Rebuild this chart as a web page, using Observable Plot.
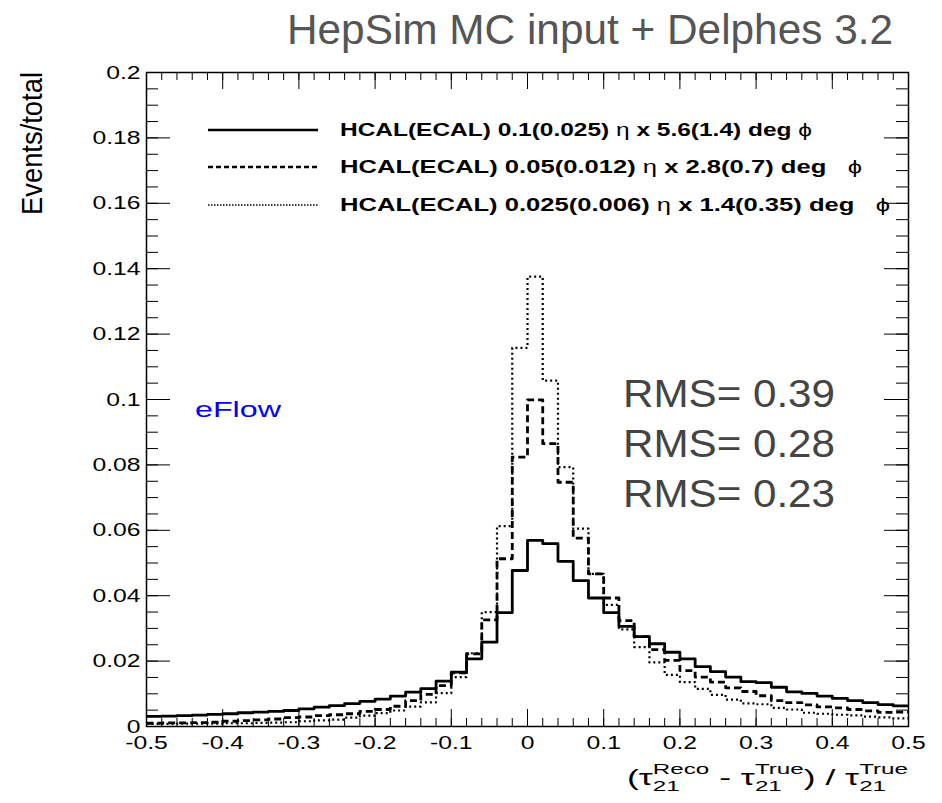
<!DOCTYPE html>
<html><head><meta charset="utf-8">
<script src="https://cdn.jsdelivr.net/npm/d3@7"></script>
<script src="https://cdn.jsdelivr.net/npm/@observablehq/plot@0.6"></script>
<style>body{margin:0;background:#fff} #chart{width:942px;height:803px}</style>
</head><body><div id="chart"></div>
<script>
// Bin edges of the histograms (50 bins of 0.02 from -0.5 to 0.5)
const binEdges = [-0.5,-0.48,-0.46,-0.44,-0.42,-0.4,-0.38,-0.36,-0.34,-0.32,-0.3,-0.28,-0.26,-0.24,-0.22,-0.2,-0.18,-0.16,-0.14,-0.12,-0.1,-0.08,-0.06,-0.04,-0.02,0,0.02,0.04,0.06,0.08,0.1,0.12,0.14,0.16,0.18,0.2,0.22,0.24,0.26,0.28,0.3,0.32,0.34,0.36,0.38,0.4,0.42,0.44,0.46,0.48,0.5];

// HCAL(ECAL) 0.1(0.025) eta x 5.6(1.4) deg phi  (solid)
const solidValues = [0.0031,0.0032,0.0033,0.0035,0.0037,0.0039,0.0042,0.0044,0.0046,0.0049,0.0054,0.0059,0.0064,0.0070,0.0077,0.0084,0.0093,0.0105,0.0116,0.0139,0.0166,0.0207,0.0258,0.0348,0.0477,0.0569,0.0559,0.0505,0.0446,0.0393,0.0348,0.0306,0.0275,0.0253,0.0227,0.0207,0.0183,0.0168,0.0151,0.0137,0.0134,0.0120,0.0106,0.0101,0.0093,0.0086,0.0079,0.0073,0.0067,0.0063];
// HCAL(ECAL) 0.05(0.012) eta x 2.8(0.7) deg phi  (dashed)
const dashedValues = [0.0010,0.0011,0.0011,0.0012,0.0013,0.0016,0.0018,0.0020,0.0023,0.0027,0.0029,0.0033,0.0036,0.0039,0.0046,0.0052,0.0062,0.0079,0.0098,0.0125,0.0164,0.0222,0.0326,0.0513,0.0824,0.0999,0.0865,0.0747,0.0576,0.0467,0.0393,0.0324,0.0275,0.0235,0.0202,0.0171,0.0151,0.0136,0.0118,0.0107,0.0094,0.0079,0.0073,0.0066,0.0060,0.0057,0.0052,0.0048,0.0043,0.0044];
// HCAL(ECAL) 0.025(0.006) eta x 1.4(0.35) deg phi  (dotted)
const dottedValues = [0.0008,0.0008,0.0009,0.0009,0.0009,0.0010,0.0010,0.0011,0.0012,0.0013,0.0016,0.0019,0.0021,0.0027,0.0033,0.0041,0.0049,0.0061,0.0074,0.0102,0.0151,0.0224,0.0350,0.0613,0.1158,0.1376,0.1058,0.0793,0.0605,0.0467,0.0372,0.0297,0.0243,0.0196,0.0158,0.0136,0.0115,0.0097,0.0082,0.0071,0.0068,0.0057,0.0052,0.0042,0.0039,0.0036,0.0034,0.0030,0.0028,0.0025];

const seriesNames = ["solid","dashed","dotted"];
const legendLabels = [
  ["HCAL(ECAL) 0.1(0.025) ", "η", " x 5.6(1.4) deg ", "ϕ"],
  ["HCAL(ECAL) 0.05(0.012) ", "η", " x 2.8(0.7) deg   ", "ϕ"],
  ["HCAL(ECAL) 0.025(0.006) ", "η", " x 1.4(0.35) deg   ", "ϕ"]
];
const rmsLabels = ["RMS= 0.39","RMS= 0.28","RMS= 0.23"];

const xMajorTicks = [-0.5,-0.4,-0.3,-0.2,-0.1,0,0.1,0.2,0.3,0.4,0.5];
const xTickLabels = ["-0.5","-0.4","-0.3","-0.2","-0.1","0","0.1","0.2","0.3","0.4","0.5"];
const yMajorTicks = [0,0.02,0.04,0.06,0.08,0.1,0.12,0.14,0.16,0.18,0.2];
const yTickLabels = ["0","0.02","0.04","0.06","0.08","0.1","0.12","0.14","0.16","0.18","0.2"];
const xMinorTicks = d3.ticks(-0.5, 0.5, 50);
const yMinorTicks = d3.ticks(0, 0.2, 40);

const styles = {
  solid:  {strokeWidth: 2.8, dash: null},
  dashed: {strokeWidth: 2.8, dash: "7,4"},
  dotted: {strokeWidth: 2.2, dash: "2,3"}
};
const valuesBySeries = {solid: solidValues, dashed: dashedValues, dotted: dottedValues};

// step-line table: one point per left bin edge plus the closing right edge
const rows = seriesNames.flatMap(s => binEdges.map((e, i) => ({
  series: s, x: e, y: valuesBySeries[s][Math.min(i, valuesBySeries[s].length - 1)]
})));

const W = 942, H = 803;
const mL = 146, mR = 34, mT = 72, mB = 77;
const fw = W - mL - mR, fh = H - mT - mB;

const lineMarks = seriesNames.map(s => Plot.line(rows.filter(r => r.series === s), {
  x: "x", y: "y", curve: "step-after", stroke: "black",
  strokeWidth: styles[s].strokeWidth, strokeDasharray: styles[s].dash, strokeLinecap: "butt"
}));

const chart = Plot.plot({
  width: W, height: H,
  marginLeft: mL, marginRight: mR, marginTop: mT, marginBottom: mB,
  style: {fontFamily: "'Liberation Sans', Arial, sans-serif", background: "white", color: "black"},
  x: {domain: [-0.5, 0.5]},
  y: {domain: [0, 0.2]},
  marks: [
    ...lineMarks,
    // ticks (ROOT style, inside the frame on all four sides)
    Plot.tickX(xMinorTicks, {x: d => d, insetTop: fh - 8, stroke: "black"}),
    Plot.tickX(xMajorTicks, {x: d => d, insetTop: fh - 17, stroke: "black"}),
    Plot.tickX(xMinorTicks, {x: d => d, insetBottom: fh - 8, stroke: "black"}),
    Plot.tickX(xMajorTicks, {x: d => d, insetBottom: fh - 17, stroke: "black"}),
    Plot.tickY(yMinorTicks, {y: d => d, insetRight: fw - 12, stroke: "black"}),
    Plot.tickY(yMajorTicks, {y: d => d, insetRight: fw - 24, stroke: "black"}),
    Plot.tickY(yMinorTicks, {y: d => d, insetLeft: fw - 12, stroke: "black"}),
    Plot.tickY(yMajorTicks, {y: d => d, insetLeft: fw - 24, stroke: "black"}),
    Plot.axisX(xMajorTicks, {anchor: "bottom", tickSize: 0, tickPadding: 9, fontSize: 19, label: null,
      tickFormat: d => xTickLabels[xMajorTicks.indexOf(d)]}),
    Plot.axisY(yMajorTicks, {anchor: "left", tickSize: 0, tickPadding: 6, fontSize: 19, label: null,
      tickFormat: d => yTickLabels[yMajorTicks.indexOf(d)]}),
    Plot.frame({stroke: "black", strokeWidth: 1.5})
  ]
});
document.getElementById("chart").appendChild(chart);

const svg = d3.select(chart);
// stretch tick labels horizontally like the reference
svg.selectAll('g[aria-label="x-axis tick label"] text, g[aria-label="y-axis tick label"] text').each(function() {
  const w = this.getComputedTextLength();
  this.setAttribute("textLength", w * 1.3);
  this.setAttribute("lengthAdjust", "spacingAndGlyphs");
});

const font = "'Liberation Sans', Arial, sans-serif";
const ann = svg.append("g").attr("text-anchor", "start").attr("font-family", font);
function fitText(sel, len) { sel.attr("textLength", len).attr("lengthAdjust", "spacingAndGlyphs"); return sel; }

// Title
fitText(ann.append("text").attr("x", 287).attr("y", 44)
  .attr("font-size", 42).attr("fill", "#555").text("HepSim MC input + Delphes 3.2"), 606);

// Y label
fitText(ann.append("text").attr("transform", "translate(42,72) rotate(-90)").attr("text-anchor", "end")
  .attr("font-size", 30).attr("fill", "black").text("Events/total"), 143);

// Legend
const legendY = [130, 167, 205];
const legendEnds = [812, 862, 890];
seriesNames.forEach((s, i) => {
  ann.append("line").attr("x1", 208).attr("x2", 318).attr("y1", legendY[i]).attr("y2", legendY[i])
    .attr("stroke", "black").attr("stroke-width", s === "dotted" ? 1.5 : 2.4)
    .attr("stroke-dasharray", styles[s].dash === null ? null : (s === "dotted" ? "1.5,1.5" : "5,3"));
  const t = ann.append("text").attr("x", 340).attr("y", legendY[i] + 6)
    .attr("font-size", 18).attr("fill", "black").attr("xml:space", "preserve").style("white-space", "pre");
  legendLabels[i].forEach((part, j) => {
    t.append("tspan").attr("font-weight", j % 2 === 0 ? "bold" : "normal").text(part);
  });
  fitText(t, legendEnds[i] - 340);
});

// RMS values
const rmsY = [407, 457, 507];
rmsLabels.forEach((r, i) => {
  fitText(ann.append("text").attr("x", 623).attr("y", rmsY[i])
    .attr("font-size", 38).attr("fill", "#444").text(r), 212);
});

// eFlow
fitText(ann.append("text").attr("x", 195).attr("y", 417)
  .attr("font-size", 22).attr("fill", "#0000ff").text("eFlow"), 86);

// X label: (τ^Reco_21 - τ^True_21) / τ^True_21
const xl = ann.append("g");
const mainSize = 22, scriptSize = 15;
const base = 785;
let cx = 0;
function put(str, size, dy) {
  const t = xl.append("text").attr("x", cx).attr("y", base + dy)
    .attr("font-size", size).attr("fill", "black").attr("xml:space", "preserve").style("white-space", "pre").text(str);
  return t.node().getComputedTextLength();
}
function main(str) { cx += put(str, mainSize, 0); }
function stack(sup, sub) {
  const a = put(sup, scriptSize, -11);
  const b = put(sub, scriptSize, 6);
  cx += Math.max(a, b);
}
main("("); main("τ"); stack("Reco", "21"); main(" - "); main("τ"); stack("True", "21");
main(") / "); main("τ"); stack("True", "21");
const k = (908 - 627) / cx;
xl.attr("transform", `translate(${908 - cx * k},0) scale(${k},1)`);
</script>
</body></html>
